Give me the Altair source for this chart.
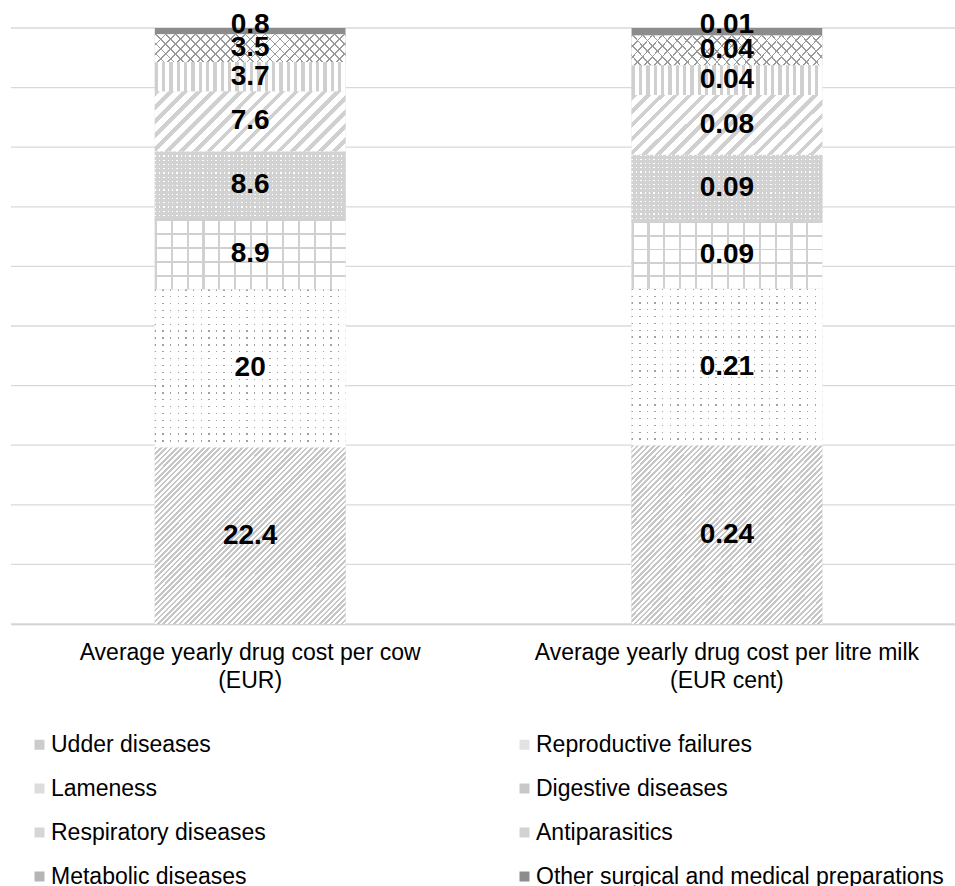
import math
import altair as alt
import pandas as pd

# ---------------- data ----------------
categories = [
    "Udder diseases",
    "Reproductive failures",
    "Lameness",
    "Digestive diseases",
    "Respiratory diseases",
    "Antiparasitics",
    "Metabolic diseases",
    "Other surgical and medical preparations",
]
groups = [
    "Average yearly drug cost per cow\n(EUR)",
    "Average yearly drug cost per litre milk\n(EUR cent)",
]
per_cow = [22.4, 20, 8.9, 8.6, 7.6, 3.7, 3.5, 0.8]
per_litre = [0.24, 0.21, 0.09, 0.09, 0.08, 0.04, 0.04, 0.01]
grid_ticks = [0, 0.1, 0.2, 0.3, 0.4, 0.5, 0.6, 0.7, 0.8, 0.9, 1.0]

rows = []
for gi, vals in enumerate([per_cow, per_litre]):
    for ci, cat in enumerate(categories):
        rows.append({"group": groups[gi], "category": cat, "order": ci,
                     "value": vals[ci], "label": str(vals[ci])})
df = pd.DataFrame(rows)
grid_df = pd.DataFrame({"tick": grid_ticks})

# ---------------- styling ----------------
FONT = "Liberation Sans"
PLOT_W, PLOT_H = 944, 596
BAR_W = 191
legend_greys = ["#cccccc", "#e2e2e2", "#dddddd", "#c8c8c8",
                "#d6d6d6", "#d2d2d2", "#b5b5b5", "#8c8c8c"]
CLEAR = "rgba(255,255,255,0)"

# legend is filled column by column: reorder so it reads row by row
legend_order = categories[0::2] + categories[1::2]
legend_range = [legend_greys[categories.index(c)] for c in legend_order]

total_cow = sum(per_cow)
seg_h = {c: per_cow[i] / total_cow * PLOT_H for i, c in enumerate(categories)}


def make_stops(n, line, bg, frac):
    st = []
    for i in range(n):
        a, b, c = i / n, (i + frac) / n, (i + 1) / n
        st += [{"offset": round(a, 5), "color": line},
               {"offset": round(b, 5), "color": line},
               {"offset": round(b, 5), "color": bg},
               {"offset": round(c, 5), "color": bg}]
    return st


def diag(cat, period, line, bg, frac, up=True):
    w, h = BAR_W, seg_h[cat]
    r = h / w
    k = (1 + r) / (1 + r * r)
    n = max(1, round((w + h) / (math.sqrt(2) * period)))
    if up:
        x1, y1, x2, y2 = 0, 0, k, k * r
    else:
        x1, y1, x2, y2 = 1, 0, 1 - k, k * r
    return {"gradient": "linear", "x1": x1, "y1": y1, "x2": x2, "y2": y2,
            "stops": make_stops(n, line, bg, frac)}


def horiz(cat, period, line, bg, frac):
    n = max(1, round(seg_h[cat] / period))
    return {"gradient": "linear", "x1": 0, "y1": 0, "x2": 0, "y2": 1,
            "stops": make_stops(n, line, bg, frac)}


def vert(cat, period, line, bg, frac):
    n = max(1, round(BAR_W / period))
    return {"gradient": "linear", "x1": 0, "y1": 0, "x2": 1, "y2": 0,
            "stops": make_stops(n, line, bg, frac)}


pattern_layers = [
    ("Udder diseases", diag("Udder diseases", 3.8, "#c6c6c6", "#ffffff", 0.5)),
    ("Reproductive failures", horiz("Reproductive failures", 6.8, "#a0a0a0", "#ffffff", 0.19)),
    ("Reproductive failures", vert("Reproductive failures", 7.6, CLEAR, "#ffffff", 0.18)),
    ("Lameness", horiz("Lameness", 15.6, "#d0d0d0", "#ffffff", 0.13)),
    ("Lameness", vert("Lameness", 15.6, "#d0d0d0", CLEAR, 0.13)),
    ("Digestive diseases", horiz("Digestive diseases", 4.3, "#ffffff", "#d2d2d2", 0.3)),
    ("Digestive diseases", vert("Digestive diseases", 4.3, CLEAR, "#d2d2d2", 0.3)),
    ("Respiratory diseases", diag("Respiratory diseases", 10.0, "#d0d0d0", "#ffffff", 0.4)),
    ("Antiparasitics", vert("Antiparasitics", 7.4, "#cfcfcf", "#ffffff", 0.45)),
    ("Metabolic diseases", diag("Metabolic diseases", 7.0, "#9a9a9a", "#ffffff", 0.17, up=False)),
    ("Metabolic diseases", diag("Metabolic diseases", 7.0, "#9a9a9a", CLEAR, 0.17, up=True)),
]

# ---------------- encodings ----------------
x_axis = alt.Axis(labelExpr="split(datum.label, '\\n')", labelAngle=0,
                  labelFont=FONT, labelFontSize=23, labelColor="#000000",
                  labelLineHeight=28, labelPadding=17, ticks=False,
                  domain=True, domainColor="#c8c8c8", domainWidth=1.3,
                  labelLimit=0, grid=False)
x_scale = alt.Scale(paddingInner=0.6, paddingOuter=0.29, align=0.52)
y_scale = alt.Scale(domain=[0, 1], nice=False, zero=True)

x_enc = alt.X("group:N", sort=groups, title=None, scale=x_scale, axis=x_axis)
y_enc = alt.Y("y0:Q", title=None, scale=y_scale, axis=None)

base = alt.Chart(df).transform_joinaggregate(
    total="sum(value)", groupby=["group"]
).transform_calculate(
    share="datum.value / datum.total"
).transform_stack(
    stack="share", groupby=["group"], as_=["y0", "y1"],
    sort=[alt.SortField("order", order="ascending")],
)

grid_layer = alt.Chart(grid_df).mark_rule(
    color="#d9d9d9", strokeWidth=1.3
).encode(
    y=alt.Y("tick:Q", title=None, scale=y_scale, axis=None),
    x=alt.value(0), x2=alt.value(PLOT_W),
)

legend_layer = base.mark_bar().encode(
    x=x_enc, y=y_enc, y2="y1:Q",
    color=alt.Color(
        "category:N", title=None,
        scale=alt.Scale(domain=legend_order, range=legend_range),
        legend=alt.Legend(
            orient="none", legendX=17, legendY=705, columns=2,
            gridAlign="all", columnPadding=54, rowPadding=20,
            symbolType="square", symbolSize=100, symbolStrokeWidth=0,
            labelFont=FONT, labelFontSize=23, labelColor="#000000",
            labelOffset=0, labelLimit=0,
        ),
    ),
)

layers = [grid_layer, legend_layer]
for cat, grad in pattern_layers:
    layers.append(
        base.mark_bar(color=grad).encode(x=x_enc, y=y_enc, y2="y1:Q")
        .transform_filter(alt.datum.category == cat)
    )

text_layer = base.mark_text(
    font=FONT, fontWeight="bold", fontSize=28, color="#000000",
    baseline="middle", align="center",
).encode(
    x=x_enc,
    y=alt.Y("mid:Q", title=None, scale=y_scale, axis=None),
    text="label:N",
).transform_calculate(
    mid="(datum.y0 + datum.y1) / 2 + (datum.share < 0.02 ? 0.011 : 0)"
)
layers.append(text_layer)

chart = alt.layer(*layers).properties(
    width=PLOT_W, height=PLOT_H,
    background="#ffffff",
    autosize=alt.AutoSizeParams(type="none"),
    padding={"left": 11, "top": 28, "right": 0, "bottom": 262},
).configure_view(stroke="transparent", strokeWidth=0)

chart.save("out.html", embed_options={"renderer": "svg", "actions": False})
